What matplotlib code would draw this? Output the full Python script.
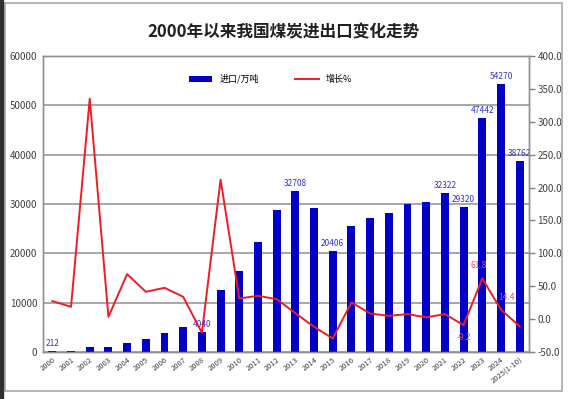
import matplotlib
matplotlib.use("Agg")
import matplotlib.pyplot as plt
from matplotlib.patches import Rectangle

plt.rcParams['font.family'] = ['Noto Sans CJK SC', 'DejaVu Sans']

years = ['2000', '2001', '2002', '2003', '2004', '2005', '2006', '2007', '2008',
         '2009', '2010', '2011', '2012', '2013', '2014', '2015', '2016', '2017',
         '2018', '2019', '2020', '2021', '2022', '2023', '2024', '2025(1-10)']
imports = [212, 250, 1100, 1100, 1860, 2620, 3810, 5100, 4040,
           12600, 16500, 22200, 28800, 32708, 29100, 20406, 25500, 27100,
           28100, 30000, 30400, 32322, 29320, 47442, 54270, 38762]
growth = [27.4, 18.7, 335.0, 3.5, 68.4, 41.5, 47.6, 33.9, -20.8,
          212.0, 31.4, 35.4, 30.4, 9.0, -11.7, -29.4, 25.4, 8.6,
          5.0, 7.6, 2.6, 7.6, -9.2, 61.8, 14.4, -11.0]

# which bars / points carry a value label
bar_labels = ['2000', '2008', '2013', '2015', '2021', '2022', '2023', '2024', '2025(1-10)']
line_labels = ['2022', '2023', '2024', '2025(1-10)']

fig = plt.figure(figsize=(5.68, 3.99), dpi=100)
fig.patches.append(Rectangle((5 / 568, 8 / 399), 557 / 568, 388 / 399,
                             transform=fig.transFigure, fill=False,
                             edgecolor='#a8a8a8', lw=1.2))
fig.patches.append(Rectangle((0, 0), 3 / 568, 1, transform=fig.transFigure,
                             color='#303030'))

ax = fig.add_axes([43 / 568, 1 - 352 / 399, 486 / 568, 296 / 399])
ax2 = ax.twinx()

x = range(len(years))
bars = ax.bar(x, imports, width=0.42, color='#0000c8', label='进口/万吨', zorder=3)
ax.set_xlim(-0.5, len(years) - 0.5)
ax.set_ylim(0, 60000)
ax.set_yticks(range(0, 60001, 10000))
ax.grid(axis='y', color='#a0a0a0', lw=1.3, zorder=0)
ax.set_axisbelow(True)
ax.set_xticks(list(x))
ax.set_xticklabels(years, rotation=38, ha='right', rotation_mode='anchor',
                   fontsize=5.5, color='#404040')
ax.tick_params(axis='y', length=0, labelsize=7, colors='#404040', pad=4)
ax.tick_params(axis='x', length=0, pad=3)

for i, y in enumerate(years):
    if y in bar_labels:
        ax.text(i, imports[i] + 600, str(imports[i]), ha='center', va='bottom',
                fontsize=6, color='#3535c0', zorder=5)

ln, = ax2.plot(x, growth, color='#ee1c25', lw=1.4, label='增长%', zorder=4)
ax2.set_ylim(-50, 400)
ax2.set_yticks(range(-50, 401, 50))
ax2.set_yticklabels(['%.1f' % v for v in range(-50, 401, 50)])
ax2.tick_params(axis='y', length=4, width=1, color='#808080',
                labelsize=7, labelcolor='#404040', pad=2)

offsets = {'2022': (0, -9), '2023': (-0.2, 9), '2024': (0.3, 9), '2025(1-10)': (0.6, -9)}
for i, y in enumerate(years):
    if y in line_labels:
        dx, dy = offsets[y]
        ax2.annotate('%.1f' % growth[i], (i + dx, growth[i]), xytext=(0, dy),
                     textcoords='offset points', ha='center', va='center',
                     fontsize=6, color='#e84a5a', zorder=6)

for a in (ax, ax2):
    for s in a.spines.values():
        s.set_color('#909090')
        s.set_linewidth(1)

leg = ax.legend([bars, ln], ['进口/万吨', '增长%'], loc='upper center',
                bbox_to_anchor=(0.468, 0.965), ncol=2, frameon=False,
                fontsize=6.5, handlelength=2.6, columnspacing=4,
                handleheight=0.6)

fig.text(283 / 568, 1 - 32 / 399, '2000年以来我国煤炭进出口变化走势',
         ha='center', va='center', fontsize=12, fontweight='bold', color='#202020')

fig.savefig('out.png', dpi=100)
